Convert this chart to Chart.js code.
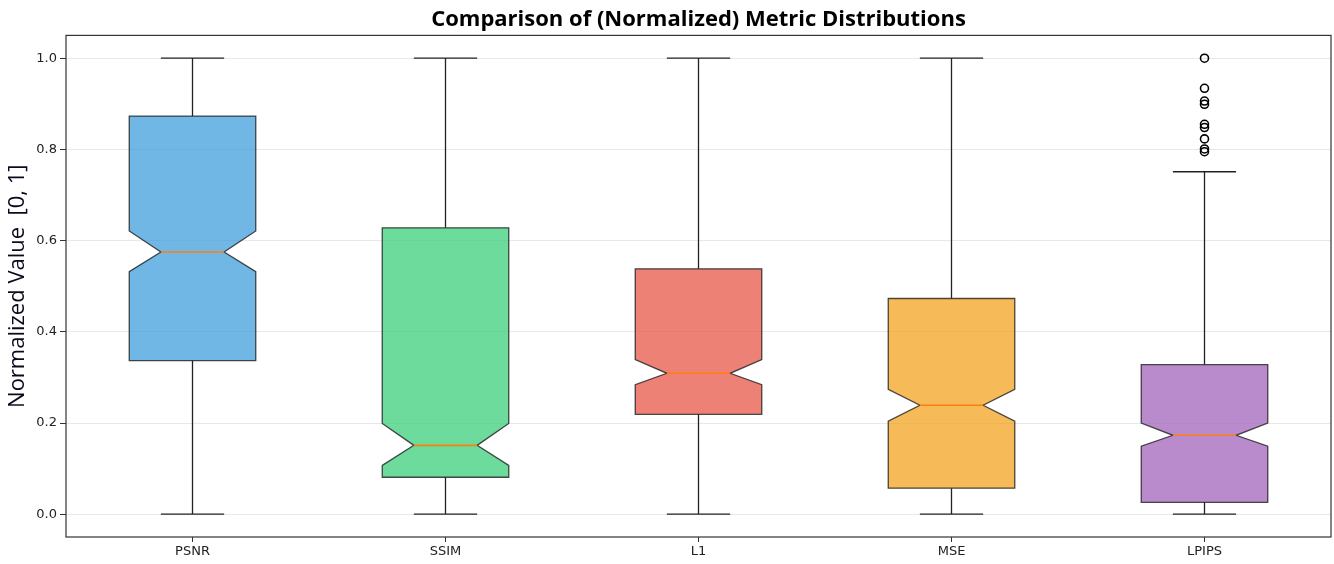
<!DOCTYPE html>
<html lang="en">
<head>
<meta charset="UTF-8">
<title>Metric Distributions</title>
<script src="https://cdn.jsdelivr.net/npm/chart.js"></script>
<style>
    html, body { margin: 0; padding: 0; background: #fff; }
    #wrap { width: 1334px; height: 564px; }
</style>
</head>
<body>
<div id="wrap"><canvas id="box-chart"></canvas></div>
<script>
    // values
    const categories = ['PSNR', 'SSIM', 'L1', 'MSE', 'LPIPS'];
    const whiskerLow = [0, 0, 0, 0, 0];
    const q1 = [0.337, 0.081, 0.219, 0.057, 0.026];
    const medians = [0.575, 0.151, 0.309, 0.239, 0.173];
    const q3 = [0.873, 0.628, 0.538, 0.473, 0.328];
    const whiskerHigh = [1.0, 1.0, 1.0, 1.0, 0.751];
    const notchLow = [0.532, 0.107, 0.284, 0.204, 0.149];
    const notchHigh = [0.621, 0.199, 0.339, 0.274, 0.200];
    const lpipsOutliers = [1.0, 0.934, 0.906, 0.899, 0.855, 0.848, 0.823, 0.801, 0.795];
    const boxColors = ['rgba(52,152,219,0.7)', 'rgba(46,204,113,0.7)', 'rgba(231,76,60,0.7)',
                       'rgba(243,156,18,0.7)', 'rgba(155,89,182,0.7)'];

    const font = 'DejaVu Sans';

    // draws notched boxes, whiskers and the frame using the chart scales
    const boxPlugin = {
        id: 'notchedBoxes',
        beforeDatasetsDraw(chart) {
            const ctx = chart.ctx;
            const x = chart.scales.x, y = chart.scales.y;
            const step = x.getPixelForValue(2) - x.getPixelForValue(1);
            const hw = step * 0.25;      // half box width
            const nw = hw * 0.5;         // half width at the notch
            const cw = step * 0.125;     // half cap width
            ctx.save();
            categories.forEach((c, i) => {
                const cx = x.getPixelForValue(i + 1);
                const yq1 = y.getPixelForValue(q1[i]), yq3 = y.getPixelForValue(q3[i]);
                const ymed = y.getPixelForValue(medians[i]);
                const ynl = y.getPixelForValue(notchLow[i]), ynh = y.getPixelForValue(notchHigh[i]);
                const ylo = y.getPixelForValue(whiskerLow[i]), yhi = y.getPixelForValue(whiskerHigh[i]);

                // whiskers + caps
                ctx.strokeStyle = '#222';
                ctx.lineWidth = 1.3;
                ctx.beginPath();
                ctx.moveTo(cx, yq3); ctx.lineTo(cx, yhi);
                ctx.moveTo(cx - cw, yhi); ctx.lineTo(cx + cw, yhi);
                ctx.moveTo(cx, yq1); ctx.lineTo(cx, ylo);
                ctx.moveTo(cx - cw, ylo); ctx.lineTo(cx + cw, ylo);
                ctx.stroke();

                // notched box
                ctx.beginPath();
                ctx.moveTo(cx - hw, yq1);
                ctx.lineTo(cx + hw, yq1);
                ctx.lineTo(cx + hw, ynl);
                ctx.lineTo(cx + nw, ymed);
                ctx.lineTo(cx + hw, ynh);
                ctx.lineTo(cx + hw, yq3);
                ctx.lineTo(cx - hw, yq3);
                ctx.lineTo(cx - hw, ynh);
                ctx.lineTo(cx - nw, ymed);
                ctx.lineTo(cx - hw, ynl);
                ctx.closePath();
                ctx.fillStyle = boxColors[i];
                ctx.fill();
                ctx.strokeStyle = 'rgba(30,30,30,0.8)';
                ctx.lineWidth = 1.3;
                ctx.stroke();

                // median
                ctx.strokeStyle = '#ff7f0e';
                ctx.lineWidth = 1.6;
                ctx.beginPath();
                ctx.moveTo(cx - nw, ymed); ctx.lineTo(cx + nw, ymed);
                ctx.stroke();
            });
            ctx.restore();
        },
        afterDraw(chart) {
            const a = chart.chartArea, ctx = chart.ctx;
            ctx.save();
            ctx.strokeStyle = '#333';
            ctx.lineWidth = 1.2;
            ctx.strokeRect(a.left, a.top, a.right - a.left, a.bottom - a.top);
            ctx.restore();
        }
    };

    const ctx = document.getElementById('box-chart').getContext('2d');
    const chart = new Chart(ctx, {
        type: 'scatter',
        data: {
            datasets: [{
                label: 'LPIPS outliers',
                data: lpipsOutliers.map(v => ({ x: 5, y: v })),
                pointStyle: 'circle',
                pointRadius: 4,
                pointBorderWidth: 1.6,
                pointBorderColor: '#000',
                pointBackgroundColor: 'rgba(0,0,0,0)'
            }]
        },
        options: {
            responsive: true,
            maintainAspectRatio: false,
            animation: false,
            layout: { autoPadding: false, padding: { top: 0, right: 3, bottom: 0, left: 0 } },
            plugins: {
                legend: { display: false },
                tooltip: { enabled: false },
                title: {
                    display: true,
                    fullSize: false,
                    text: 'Comparison of (Normalized) Metric Distributions',
                    color: '#000',
                    font: { family: 'Open Sans', size: 22, weight: 'bold' },
                    padding: { top: 7, bottom: 2 }
                }
            },
            scales: {
                x: {
                    type: 'linear',
                    min: 0.5,
                    max: 5.5,
                    afterBuildTicks: s => { s.ticks = categories.map((c, i) => ({ value: i + 1 })); },
                    afterFit: s => { s.height = 27; },
                    ticks: {
                        callback: v => categories[v - 1],
                        color: '#222',
                        font: { family: font, size: 13 },
                        padding: 2,
                        maxRotation: 0
                    },
                    grid: { drawOnChartArea: false, tickLength: 5, tickColor: '#333' },
                    border: { display: false }
                },
                y: {
                    min: -0.05,
                    max: 1.05,
                    afterBuildTicks: s => { s.ticks = [0, 0.2, 0.4, 0.6, 0.8, 1.0].map(v => ({ value: v })); },
                    afterFit: s => { s.width = 66; },
                    ticks: {
                        callback: v => v.toFixed(1),
                        color: '#222',
                        font: { family: font, size: 13 },
                        padding: 3
                    },
                    grid: { color: 'rgba(0,0,0,0.09)', tickColor: '#333', tickLength: 6 },
                    border: { display: false },
                    title: {
                        display: true,
                        text: 'Normalized Value  [0, 1]',
                        color: '#0a0a1e',
                        font: { family: 'Open Sans', size: 22 },
                        padding: { top: 5, bottom: 0 }
                    }
                }
            }
        },
        plugins: [boxPlugin]
    });
</script>
</body>
</html>
